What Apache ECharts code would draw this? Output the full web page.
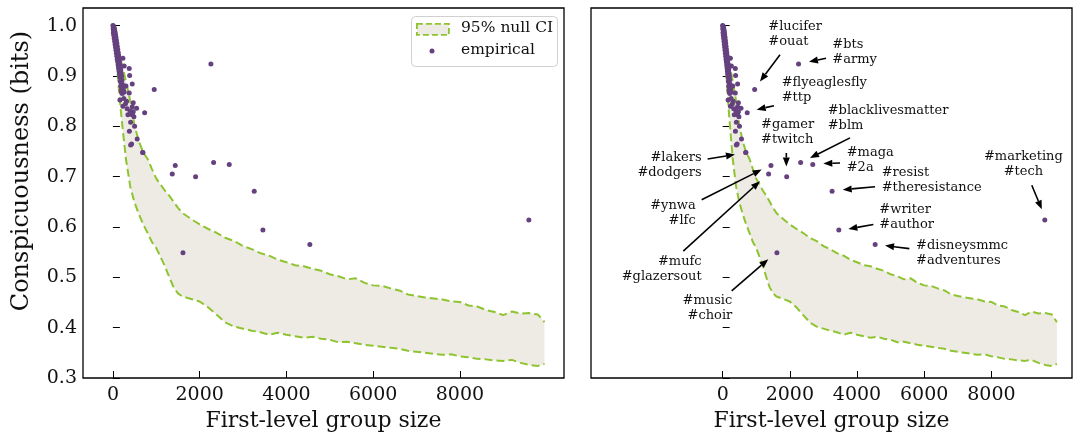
<!DOCTYPE html>
<html><head><meta charset="utf-8">
<script src="https://cdn.jsdelivr.net/npm/echarts@6/dist/echarts.min.js"></script>
<style>html,body{margin:0;padding:0;background:#fff}#c{width:1078px;height:437px}</style>
</head><body><div id="c"></div>
<script>
// ---- data ----
const ciX = [0,50,100,150,200,300,400,500,600,700,800,900,1000,1100,1200,1300,1400,1500,1600,1800,2000,2200,2400,2600,2800,3000,3200,3400,3600,3800,4000,4200,4400,4600,4800,5000,5200,5400,5600,5800,6000,6200,6400,6600,6800,7000,7200,7400,7600,7800,8000,8200,8400,8600,8800,9000,9200,9400,9600,9800,9950];
const ciLower = [1.0,0.975,0.915,0.860,0.815,0.735,0.680,0.648,0.625,0.605,0.588,0.570,0.558,0.540,0.522,0.500,0.480,0.468,0.462,0.457,0.452,0.440,0.425,0.410,0.402,0.398,0.394,0.391,0.386,0.390,0.386,0.383,0.380,0.382,0.378,0.376,0.371,0.372,0.369,0.366,0.364,0.362,0.360,0.358,0.354,0.352,0.350,0.348,0.346,0.347,0.343,0.341,0.338,0.337,0.335,0.334,0.336,0.330,0.326,0.324,0.328];
const ciUpper = [1.0,0.985,0.965,0.945,0.925,0.890,0.850,0.800,0.770,0.748,0.735,0.715,0.696,0.684,0.672,0.662,0.650,0.638,0.628,0.616,0.605,0.596,0.588,0.578,0.572,0.562,0.556,0.548,0.543,0.535,0.530,0.524,0.522,0.517,0.513,0.506,0.502,0.496,0.498,0.489,0.484,0.483,0.478,0.474,0.466,0.463,0.460,0.458,0.456,0.452,0.451,0.444,0.442,0.435,0.431,0.425,0.432,0.428,0.429,0.426,0.411];

const empirical = [
 [0,1.0],[10,0.999],[20,0.997],[30,0.995],[5,0.994],[15,0.992],[40,0.991],[25,0.989],[50,0.987],[10,0.986],[35,0.984],[60,0.982],[20,0.981],[45,0.979],[70,0.977],[30,0.975],[55,0.973],[80,0.971],[40,0.969],[65,0.967],[90,0.965],[50,0.963],[75,0.961],[100,0.959],[60,0.957],[85,0.955],[110,0.953],[70,0.951],
 [95,0.949],[120,0.947],[80,0.945],[105,0.943],[130,0.941],[90,0.939],[115,0.937],[140,0.935],[100,0.933],[125,0.931],[150,0.930],
 [110,0.928],[135,0.926],[160,0.924],[120,0.922],[145,0.920],[170,0.918],[130,0.916],[155,0.914],[180,0.912],[140,0.910],[165,0.908],[190,0.906],[150,0.904],[175,0.902],[200,0.900],[376,0.915],[385,0.901],[230,0.935],[260,0.920],
 [160,0.898],[185,0.895],[210,0.892],[170,0.889],[195,0.886],[220,0.883],[180,0.880],[205,0.877],[240,0.874],[190,0.871],[260,0.868],[215,0.865],[445,0.884],[300,0.880],[224,0.876],
 [200,0.867],[376,0.866],[161,0.852],[315,0.850],[468,0.847],[546,0.836],[445,0.839],[468,0.829],[346,0.823],[445,0.823],[484,0.819],[250,0.855],[290,0.845],[330,0.835],[400,0.830],[230,0.840],
 [408,0.808],[560,0.775],[431,0.765],[408,0.763],[685,0.748],[692,0.748],[380,0.790],[500,0.800],
 [952,0.873],[731,0.827],[2259,0.924],[1437,0.722],[1368,0.705],[2321,0.728],[1906,0.700],[2682,0.724],[3258,0.671],[9590,0.614],[3458,0.594],[4540,0.565],[1615,0.549]
];

const xTicks = [0,2000,4000,6000,8000];
const yTicks = [0.3,0.4,0.5,0.6,0.7,0.8,0.9,1.0];

const annText = ['#lucifer\n#ouat','#bts\n#army','#flyeaglesfly\n#ttp','#blacklivesmatter\n#blm','#gamer\n#twitch','#maga\n#2a','#lakers\n#dodgers','#resist\n#theresistance','#marketing\n#tech','#ynwa\n#lfc','#writer\n#author','#disneysmmc\n#adventures','#mufc\n#glazersout','#music\n#choir'];
const annTextX = [1358,3264,1757,3127,1141,3693,-626,4735,8953,-804,4665,5757,-626,287];
const annTextY = [0.983,0.947,0.871,0.816,0.788,0.733,0.723,0.694,0.724,0.628,0.620,0.549,0.516,0.438];
const annAlign = ['left','left','left','left','left','left','right','left','center','right','left','left','right','right'];
const arrowFromX = [1707,3077,1528,3791,1895,3494,-447,4536,9203,-625,4486,5558,-1173,268];
const arrowFromY = [0.942,0.935,0.841,0.777,0.747,0.727,0.735,0.680,0.683,0.654,0.605,0.557,0.552,0.473];
const arrowToX = [1111,2570,1012,2600,1895,2996,366,3574,9501,1161,3741,4834,1111,1358];
const arrowToY = [0.889,0.928,0.833,0.737,0.720,0.726,0.744,0.674,0.635,0.714,0.596,0.563,0.691,0.536];

// ---- style ----
const FONT = "'DejaVu Serif', serif";
const GREEN = '#8fc431';
const BEIGE = '#eeebe4';
const PURPLE = '#65427f';

function ciBand(gi) {
  return {
    type: 'custom', xAxisIndex: gi, yAxisIndex: gi, silent: true, z: 1,
    data: [[0, 1]], encode: {x: 0, y: 1},
    renderItem: function (params, api) {
      const pts = [];
      for (let i = 0; i < ciX.length; i++) pts.push(api.coord([ciX[i], ciUpper[i]]));
      for (let i = ciX.length - 1; i >= 0; i--) pts.push(api.coord([ciX[i], ciLower[i]]));
      return {type: 'polygon', shape: {points: pts}, style: {fill: BEIGE, stroke: null}};
    }
  };
}
function ciLine(gi, arr) {
  return {
    type: 'line', xAxisIndex: gi, yAxisIndex: gi, showSymbol: false, silent: true, z: 2,
    data: ciX.map((x, i) => [x, arr[i]]),
    lineStyle: {color: GREEN, width: 2, type: [8, 4]}
  };
}
function scatter(gi) {
  return {
    type: 'scatter', xAxisIndex: gi, yAxisIndex: gi, silent: true, z: 3,
    symbolSize: 5, itemStyle: {color: PURPLE, opacity: 1},
    data: empirical
  };
}
const annSeries = {
  type: 'custom', xAxisIndex: 1, yAxisIndex: 1, silent: true, z: 4,
  data: annTextX.map((x, i) => [x, annTextY[i]]), encode: {x: 0, y: 1},
  renderItem: function (params, api) {
    const i = params.dataIndex;
    const tp = api.coord([annTextX[i], annTextY[i]]);
    const p1 = api.coord([arrowFromX[i], arrowFromY[i]]);
    const p2 = api.coord([arrowToX[i], arrowToY[i]]);
    let dx = p2[0] - p1[0], dy = p2[1] - p1[1];
    const len = Math.sqrt(dx * dx + dy * dy) || 1;
    dx /= len; dy /= len;
    const L = 9, W = 3.5;
    const bx = p2[0] - dx * L, by = p2[1] - dy * L;
    return {
      type: 'group',
      children: [
        {type: 'text', style: {text: annText[i], x: tp[0], y: tp[1], font: "13px " + FONT, fill: '#111', align: annAlign[i], verticalAlign: 'middle', lineHeight: 15}},
        {type: 'line', shape: {x1: p1[0], y1: p1[1], x2: bx, y2: by}, style: {stroke: '#000', lineWidth: 1.6}},
        {type: 'polygon', shape: {points: [p2, [bx - dy * W, by + dx * W], [bx + dy * W, by - dx * W]]}, style: {fill: '#000'}}
      ]
    };
  }
};

function xAxis(gi, min, max) {
  return {
    type: 'value', gridIndex: gi, min: min, max: max,
    name: 'First-level group size', nameLocation: 'middle', nameGap: 32,
    nameTextStyle: {fontFamily: FONT, fontSize: 22, color: '#111'},
    axisLine: {show: false}, splitLine: {show: false},
    axisTick: {show: true, inside: true, length: 7, customValues: xTicks, lineStyle: {color: '#000', width: 1}},
    axisLabel: {customValues: xTicks, fontFamily: FONT, fontSize: 19, color: '#111', margin: 8, formatter: v => String(v)}
  };
}
function yAxis(gi, showLabels) {
  return {
    type: 'value', gridIndex: gi, min: 0.3, max: 1.035,
    axisLine: {show: false}, splitLine: {show: false},
    axisTick: {show: true, inside: true, length: 7, customValues: yTicks, lineStyle: {color: '#000', width: 1}},
    axisLabel: {show: showLabels, customValues: yTicks, fontFamily: FONT, fontSize: 19, color: '#111', margin: 6, formatter: v => v.toFixed(1)}
  };
}

const chart = echarts.init(document.getElementById('c'), null, {renderer: 'canvas'});
chart.setOption({
  animation: false,
  backgroundColor: '#fff',
  grid: [
    {left: 83, top: 8, width: 481, height: 371, show: true, borderColor: '#000', borderWidth: 1.3, backgroundColor: 'transparent'},
    {left: 591, top: 8, width: 481, height: 371, show: true, borderColor: '#000', borderWidth: 1.3, backgroundColor: 'transparent'}
  ],
  xAxis: [xAxis(0, -690, 10400), xAxis(1, -3920, 10400)],
  yAxis: [yAxis(0, true), yAxis(1, false)],
  series: [
    ciBand(0), ciLine(0, ciUpper), ciLine(0, ciLower), scatter(0),
    ciBand(1), ciLine(1, ciUpper), ciLine(1, ciLower), scatter(1),
    annSeries
  ],
  graphic: [
    {type: 'text', x: 22, y: 171, rotation: Math.PI / 2, style: {text: 'Conspicuousness (bits)', font: "24px " + FONT, fill: '#111', align: 'center', verticalAlign: 'middle'}},
    {type: 'rect', left: 411, top: 16, shape: {width: 146, height: 50, r: 4}, style: {fill: 'rgba(255,255,255,0.8)', stroke: '#d0d0d0', lineWidth: 1}, z: 100},
    {type: 'rect', left: 416, top: 23, shape: {width: 32, height: 11}, style: {fill: BEIGE, stroke: GREEN, lineWidth: 1.8, lineDash: [6, 3]}, z: 101},
    {type: 'text', left: 461, top: 20, style: {text: '95% null CI', font: "15.5px " + FONT, fill: '#111'}, z: 101},
    {type: 'circle', shape: {cx: 432, cy: 51, r: 2.5}, style: {fill: PURPLE}, z: 101},
    {type: 'text', left: 461, top: 42, style: {text: 'empirical', font: "15.5px " + FONT, fill: '#111'}, z: 101}
  ]
});
</script>
</body></html>
